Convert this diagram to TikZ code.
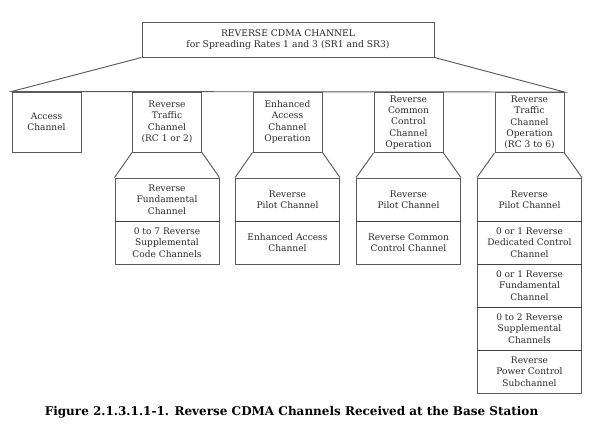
\documentclass[tikz,border=0pt]{standalone}
\usepackage{fontspec}
\setmainfont{DejaVu Serif}
\definecolor{linegray}{HTML}{5A5A5A}
\definecolor{divgray}{HTML}{404040}
\definecolor{textgray}{HTML}{2A2A2A}
\begin{document}
\begin{tikzpicture}[x=0.75pt,y=-0.75pt,
  lbl/.style={align=center, inner sep=0pt, text=textgray, font=\fontsize{6.8}{8.5}\selectfont},
  box/.style={lbl, draw=linegray, line width=0.7pt},
  upbox/.style={box, minimum width=51.75pt, minimum height=45pt},
  cell/.style={box, minimum width=78pt, minimum height=32.25pt},
  conn/.style={draw=linegray, line width=0.7pt},
  divider/.style={draw=divgray, line width=1.3pt}]
\useasboundingbox[fill=white] (0,0) rectangle (602,428);
% top box
\node[box, minimum width=219pt, minimum height=26.25pt, font=\fontsize{6.9}{8.8}\selectfont] (top) at (288,39.5)
  {REVERSE CDMA CHANNEL\\for Spreading Rates 1 and 3 (SR1 and SR3)};
% first row
\node[upbox] (acc) at (46.5,122) {Access\\Channel};
\node[upbox] (rtc) at (167,122) {Reverse\\Traffic\\Channel\\(RC 1 or 2)};
\node[upbox] (eac) at (287.5,122) {Enhanced\\Access\\Channel\\Operation};
\node[upbox] (rcc) at (408.5,122.5) {Reverse\\Common\\Control\\Channel\\Operation};
\node[upbox] (rto) at (529.5,122.5) {Reverse\\Traffic\\Channel\\Operation\\(RC 3 to 6)};
% fan-out from top box
\draw[conn] (top.south west) -- (acc.north west) -- (rto.north east) -- (top.south east);
% lower stacks
\node[cell] (a1) at (167,199.5) {Reverse\\Fundamental\\Channel};
\node[cell] (a2) at (167,242.5) {0 to 7 Reverse\\Supplemental\\Code Channels};
\node[cell] (b1) at (287.5,199.5) {Reverse\\Pilot Channel};
\node[cell] (b2) at (287.5,242.5) {Enhanced Access\\Channel};
\node[cell] (c1) at (408.5,199.5) {Reverse\\Pilot Channel};
\node[cell] (c2) at (408.5,242.5) {Reverse Common\\Control Channel};
\node[cell] (d1) at (529.5,199.5) {Reverse\\Pilot Channel};
\node[cell] (d2) at (529.5,242.5) {0 or 1 Reverse\\Dedicated Control\\Channel};
\node[cell] (d3) at (529.5,285.5) {0 or 1 Reverse\\Fundamental\\Channel};
\node[cell] (d4) at (529.5,328.5) {0 to 2 Reverse\\Supplemental\\Channels};
\node[cell] (d5) at (529.5,371.5) {Reverse\\Power Control\\Subchannel};
% trapezoid connectors
\foreach \u/\l in {rtc/a1, eac/b1, rcc/c1, rto/d1}{
  \draw[conn] (\u.south west) -- (\l.north west);
  \draw[conn] (\u.south east) -- (\l.north east);
}
% dividers
\foreach \c in {a1, b1, c1, d1, d2, d3, d4}{
  \draw[divider] (\c.south west) -- (\c.south east);
}
% caption
\node[inner sep=0pt, font=\bfseries\fontsize{9.0}{11}\selectfont] (cap) at (291.5,412)
  {Figure 2.1.3.1.1-1. Reverse CDMA Channels Received at the Base Station};
\end{tikzpicture}
\end{document}
